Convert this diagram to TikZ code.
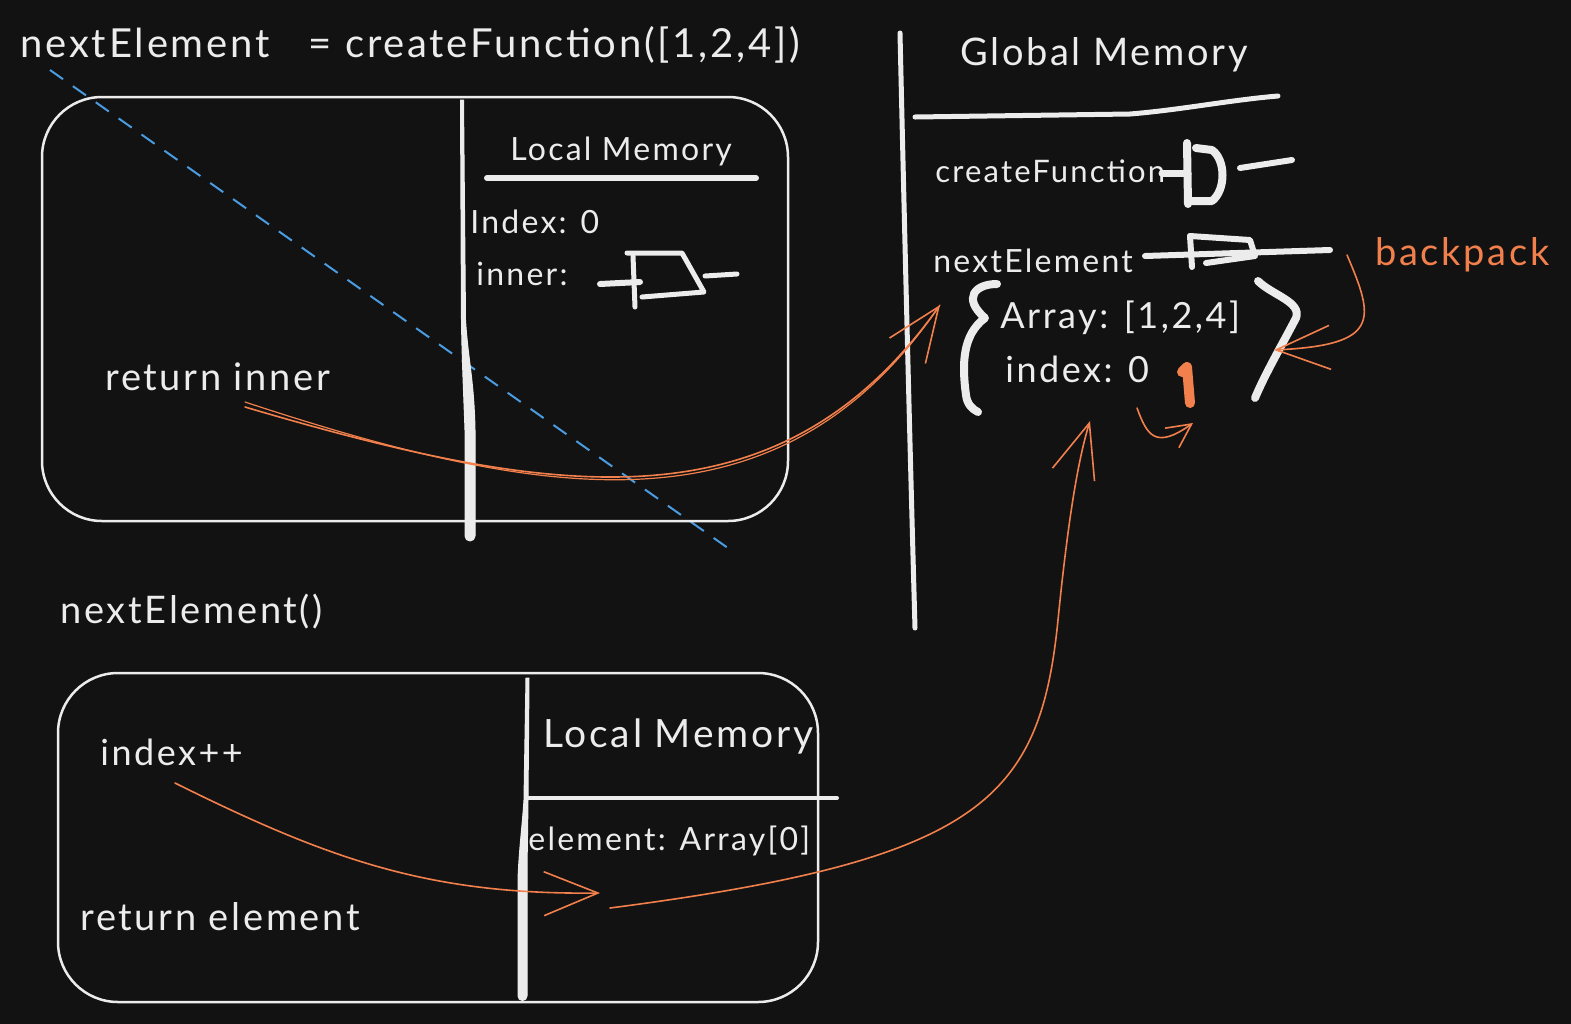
\documentclass[tikz,border=0pt]{standalone}
\usepackage{fontspec}
\setmainfont{Lato}[LetterSpace=7]
\usetikzlibrary{arrows.meta}
\definecolor{bg}{HTML}{121212}
\definecolor{ink}{HTML}{ECECEC}
\definecolor{orng}{HTML}{F2804C}
\definecolor{blu}{HTML}{4A9BE0}
\tikzset{
  lbl/.style={text=ink, anchor=base west, inner sep=0pt},
  fs/.style={font=\fontsize{#1}{#1}\selectfont},
  frame/.style={draw=ink, line width=1.25pt, rounded corners=30pt},
  inkline/.style={draw=ink, line cap=round, line join=round},
  taper/.style={fill=ink, draw=ink, line width=0.5pt, line join=round},
  oarrow/.style={draw=orng, line width=0.8pt, line cap=round, -{Straight Barb[length=27pt,width=22pt,line width=0.8pt]}},
  oline/.style={draw=orng, line width=0.8pt, line cap=round},
}
\begin{document}
\begin{tikzpicture}[x=0.5pt,y=-0.5pt]
\fill[bg] (0,0) rectangle (1571,1024);
\useasboundingbox (0,0) rectangle (1571,1024);

% title
\node[lbl, fs=20] (title) at (20,57) {nextElement\ \ \ = createFunction([1,2,4])};

% blue dashed line
\coordinate (b1) at (50,70);
\coordinate (b2) at (735,553);
\draw[blu, line width=1pt, dash pattern=on 8pt off 6pt] (b1) -- (b2);

% Box 1
\draw[frame] (42,97) rectangle (788,521);
\draw[taper] (460.5,100) -- (463.5,100) -- (465.5,320) .. controls (468,360) and (474,380) .. (475,430) -- (475,536)
  arc[start angle=0, end angle=-180, x radius=5, y radius=-5] -- (465,430) .. controls (464,400) and (462,360) .. (461.5,320) -- cycle;
\node[lbl, fs=16] (lm1) at (510,160) {Local Memory};
\draw[inkline, line width=3pt] (487,178) -- (756,178);
\node[lbl, fs=16] (idx1) at (470,233) {Index: 0};
\node[lbl, fs=16] (inn) at (476,285) {inner:};
% function symbol (inner)
\draw[inkline, line width=3pt] (600,284) -- (640,282);
\draw[inkline, line width=2.5pt] (633,256) -- (635,307);
\draw[inkline, line width=2.5pt] (627,253) -- (682,253) -- (704,292) -- (642,297);
\draw[inkline, line width=2.5pt] (705,276) -- (737,274);
\node[lbl, fs=19] (ret1) at (105,390) {return inner};

% Global memory
\draw[inkline, line width=2.5pt] (900,33) .. controls (905,250) and (910,450) .. (915,628);
\node[lbl, fs=19] (gm) at (960,65) {Global Memory};
\draw[inkline, line width=2.5pt] (915,117) -- (1130,114) .. controls (1180,110) and (1230,100) .. (1278,96);
\node[lbl, fs=15.5] (cf) at (935,182) {createFunction};
% createFunction symbol
\draw[inkline, line width=3.5pt] (1162,173) -- (1188,173);
\draw[inkline, line width=4pt] (1187,143) -- (1188,204);
\draw[inkline, line width=4pt] (1196,148) -- (1212,150) .. controls (1226,160) and (1226,190) .. (1212,201) -- (1190,201);
\draw[inkline, line width=3pt] (1240,168) -- (1292,160);
\node[lbl, fs=16] (ne) at (933,272) {nextElement};
% nextElement symbol
\draw[inkline, line width=3pt] (1145,256) -- (1330,250);
\draw[inkline, line width=3pt] (1190,236) -- (1250,240) -- (1255,256) -- (1206,263);
\draw[inkline, line width=3pt] (1190,236) -- (1192,267);
% backpack braces
\draw[inkline, line width=4pt] (997,284) .. controls (975,284) and (962,298) .. (985,318)
   .. controls (962,335) and (962,365) .. (966,395) .. controls (967,404) and (972,409) .. (978,412);
\draw[inkline, line width=4pt] (1258,281) .. controls (1272,295) and (1302,302) .. (1296,318)
   .. controls (1282,345) and (1266,372) .. (1255,398);
\node[lbl, fs=18] (arr) at (1000,328) {Array: [1,2,4]};
\node[lbl, fs=18] (idx) at (1005,382) {index: 0};
\draw[orng, line width=5pt, line cap=round, line join=round] (1182,372) -- (1187,367) -- (1190,403);
\node[lbl, fs=19, text=orng] (bp) at (1375,265) {backpack};

% arrows (upper)
\coordinate (ri) at (245,407);
\coordinate (gtip) at (940,305);
\draw[oarrow] (ri) .. controls (560,500) and (780,530) .. (gtip);
\draw[oline, line width=0.6pt] ([yshift=2.5pt]ri) .. controls (560,506) and (784,534) .. (gtip);
\coordinate (bps) at (1347,255);
\coordinate (bpt) at (1274,350);
\draw[oarrow] (bps) .. controls (1375,320) and (1380,345) .. (bpt);
\coordinate (ss) at (1137,408);
\coordinate (st) at (1193,423);
\draw[oline, -{Straight Barb[length=12pt,width=12pt,line width=0.8pt]}] (ss) .. controls (1147,435) and (1155,450) .. (st);

% nextElement()
\node[lbl, fs=19] (call) at (60,623) {nextElement()};

% Box 2
\draw[frame] (58,673) rectangle (818,1002);
\draw[taper] (526,678) -- (529,678) -- (528,800) .. controls (527.5,840) and (527,860) .. (527,880) -- (527,996)
  arc[start angle=0, end angle=-180, x radius=4.5, y radius=-4.5] -- (518,880) .. controls (519,850) and (522,830) .. (524,800) -- cycle;
\draw[inkline, line width=2pt] (527,798) -- (837,798);
\node[lbl, fs=19.5] (lm2) at (543,747) {Local Memory};
\node[lbl, fs=16] (el) at (528,850) {element: Array[0]};
\node[lbl, fs=18] (ipp) at (100,765) {index++};
\node[lbl, fs=19] (ret2) at (80,930) {return element};

% arrows (lower)
\coordinate (ip) at (175,783);
\coordinate (et) at (600,893);
\draw[oarrow] (ip) .. controls (330,860) and (430,895) .. (et);
\coordinate (es) at (610,908);
\coordinate (it) at (1090,421);
\draw[oarrow] (es) .. controls (980,860) and (1040,800) .. (1058,620) .. controls (1068,520) and (1078,460) .. (it);
\end{tikzpicture}
\end{document}
